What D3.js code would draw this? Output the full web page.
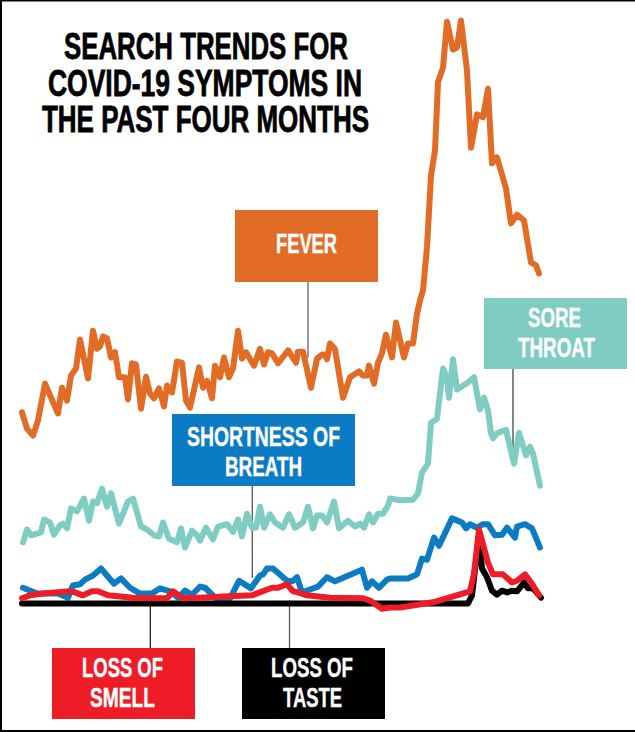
<!DOCTYPE html>
<html>
<head>
<meta charset="utf-8">
<script src="https://cdnjs.cloudflare.com/ajax/libs/d3/7.8.5/d3.min.js"></script>
<style>
  html, body { margin: 0; padding: 0; background: #fff; }
  text { font-family: "Liberation Sans Narrow", "Liberation Sans", sans-serif; font-weight: 700; }
</style>
</head>
<body>
<div id="chart"></div>
<script>
const titleLines = ["SEARCH TRENDS FOR", "COVID-19 SYMPTOMS IN", "THE PAST FOUR MONTHS"];

// days since the start of the window, search interest 0-100
const feverDays = [0,1.25,2.75,4,5.75,9,10,11.25,12.25,13.5,14.5,16.5,17.75,18.75,19.5,20.25,21.25,22.25,23.25,24.25,25.75,26.5,27.5,28.5,29.75,31,32,33,34.25,35.5,36.25,37.5,38.75,40,41,42,44.25,45.25,46.25,47.5,48.25,49.5,50.5,51.75,52.75,54,55,56,58,59.5,60.5,61.5,62.5,64,66.5,68.5,69,70.25,72.25,73.75,75,75.75,76.25,77,78.25,80.25,82,84.25,85.25,86.25,86.75,88,89,90,91,92.5,93.5,95.5,96.5,97.75,98.75,99.5,100.25,101.25,102.25,103.25,104,105.25,106.25,107.75,108.75,109.75,111.25,112.25,113.75,115.25,116.5,117.5,118.75,121,122.25,123.75,125.5,127.25,128.5,129.25];
const feverValues = [32.8,30,28.8,31.4,37.7,32.6,37,34.8,39.1,40.3,45.3,38.6,46.8,43.7,44.1,45.8,45.5,42.2,43.1,38.8,38.8,35,41.2,41,33.4,38.9,36,35.2,36.9,33.8,37.4,36.2,41.5,41.3,34.8,33.6,40.5,37,38.2,35.2,40.8,38.8,42.2,38.8,40.3,46.8,42,43.1,40.8,43.7,41,43.1,42.9,41.2,43.4,41.3,43.2,43.2,37,42,42.7,42.7,41.9,44.6,43.6,35.3,38.8,39.8,39.1,39.1,40.8,37.7,41.3,42.9,46.1,42.2,48.2,42.2,44.6,44.6,49.7,52,53.7,61.1,73.4,77.7,89.4,91.9,99.8,95,95.4,100,91.4,78.2,83.9,83.4,88.3,75.5,76.5,71.2,65.2,66.7,65.7,58.5,58,56.6];

const throatDays = [0.25,1.25,2.25,4.75,5.5,7,8,9.5,10.25,11.25,12.25,13.75,15.5,16.75,17.75,18.75,20,21.25,22.25,24.25,26.5,27.75,29.75,31.25,33,34.25,35.25,36.75,38.75,39.75,40.75,42.5,43.75,44.5,46,47.75,49,51.25,52.75,54,55,56.25,57.5,58.5,59.5,60.5,62,63.25,65.25,66.75,68.25,70.25,71.5,72.75,73.75,75,76.25,78,79.25,81.5,83.25,84.5,85.5,86.75,87.75,89,90.25,91.5,92,94.5,97.75,99,100,101.5,102.25,103.75,105.25,106.25,106.75,107.75,108.75,111.5,113,114.5,115.5,116.5,117.25,117.75,118.75,121,123,124.25,126,127,127.75,129.5];
const throatValues = [10.5,12.7,11.7,12.2,14.4,13.9,11.8,13.4,13.7,12.9,16.3,15.8,18,14.2,17.5,17.2,19.7,16.6,18.9,13.7,17.5,18,13.2,12.7,11.7,11.5,13.9,11.1,10.5,12.9,9.6,12.5,11.7,10.8,13,11,13.2,13.6,12.3,14.4,11.5,15.4,13,13,16.6,13,15.3,13.9,13,15.3,13,13.9,16.6,12.9,15.1,15.1,13.9,17.5,12.9,14.2,13.2,13.7,13,15.3,13.9,15.4,15.4,16.8,18,17.7,17.8,18.9,22.5,24,31,31.7,40.3,38.8,35.3,41.9,36.7,37.9,38.8,33.3,35.3,33.1,29.2,28.3,29.2,29.8,24,29.3,25.4,26.9,25.7,20.2];

const breathDays = [0.25,3.75,9,11.5,12.75,14.5,15.75,17.75,19.75,23,24.75,27,29.5,32.5,34.5,37,39,40.75,42.5,44.5,45.75,48.75,52,54.25,57.25,59.5,60.25,61.25,62.75,66.25,67.5,68.75,70,72,74,76.25,78.25,85,86.25,87.5,89.25,91.25,92,94.5,96.5,98.75,100,101.25,103,104.25,107.5,110,111,112,113.75,115.25,116.5,118.25,120,121.25,123.25,123.75,125.75,127.5,129.5];
const breathValues = [2.7,1.7,1.7,1,3.1,3.3,4.1,4.8,6,3.4,4.3,2.7,1.7,1.7,2.6,2.1,1,2.2,1.5,2.9,2.7,0.7,0.9,3.9,2.6,4.8,5,6,6,3.9,3.8,4.5,1.9,2.4,2.9,4.5,3.8,5.8,2.7,3.8,2.7,4.1,4.3,4.3,4.3,5,7.7,7.5,11.3,9.9,14.6,13.9,12.9,13.6,13,13.6,13.6,11.7,11.8,13,11.3,13.2,13.6,12.9,9.6];

const tasteDays = [0,111.5,112.5,114.25,115,116.25,117.5,118.75,120,121.25,122.5,123.75,125.5,126.5,127.75,129.75];
const tasteValues = [0,0,1.4,11.7,6,4.5,2.2,1.5,2.2,1.9,2.2,2.1,3.6,2.6,2.6,1];

const smellDays = [0,2,5.25,12,13.25,15.25,17.5,19,21.5,27.75,33.75,36.25,37.75,40.25,42,44.5,50.25,57.5,62.5,64,66.25,67.75,69,71.25,77,85.25,87,90,92,94.5,102.75,112,113,114.25,116.5,117.75,120.25,122.5,123.75,125.75,127.5,129.25];
const smellValues = [0.9,1.4,1.7,2.1,1.9,1.4,2.1,2.1,1.4,1,0.9,0.9,2.1,0.9,1,1,1.2,1.4,2.7,2.7,3.3,2.1,1.9,1.4,1,0.9,0.5,-0.9,-0.7,-0.7,0.2,2.1,5.1,12.7,7,5,5,3.6,3.9,5,3.4,1.4];

const width = 635;
const height = 732;

const orange = '#e26b25';
const teal = '#7fccc3';
const blue = '#0b7bc4';
const red = '#ee1c27';
const black = '#000000';

const x = d3.scaleLinear().domain([0, 130]).range([22, 542]);
const y = d3.scaleLinear().domain([0, 100]).range([603.5, 20.5]);

const svg = d3
    .select('#chart')
    .append('svg')
    .attr('width', width)
    .attr('height', height)
    .style('display', 'block');

svg.append('rect').attr('width', width).attr('height', height).attr('fill', '#fff');

// scan has a thin frame on the left, top and bottom only
svg.append('rect').attr('width', 2).attr('height', height).attr('fill', black);
svg.append('rect').attr('width', width).attr('height', 1.5).attr('fill', black);
svg.append('rect').attr('y', height - 2).attr('width', width).attr('height', 2).attr('fill', black);

const line = d3.line()
    .x(d => x(d[0]))
    .y(d => y(d[1]));

const series = [
    { days: feverDays, values: feverValues, color: orange },
    { days: throatDays, values: throatValues, color: teal },
    { days: breathDays, values: breathValues, color: blue },
    { days: tasteDays, values: tasteValues, color: black },
    { days: smellDays, values: smellValues, color: red }
];

// leader lines go under the curves
const leaders = [
    { x: 308, y1: 282, y2: 358, color: '#808080', w: 1.6 },
    { x: 513, y1: 369, y2: 450, color: '#444444', w: 1.3 },
    { x: 252.3, y1: 486, y2: 578, color: '#555555', w: 1.3 },
    { x: 150.3, y1: 597, y2: 648, color: '#111111', w: 1.2 },
    { x: 289.5, y1: 600, y2: 648, color: '#555555', w: 1.3 }
];

svg.selectAll('.leader')
    .data(leaders)
    .join('line')
    .attr('class', 'leader')
    .attr('x1', d => d.x)
    .attr('x2', d => d.x)
    .attr('y1', d => d.y1)
    .attr('y2', d => d.y2)
    .attr('stroke', d => d.color)
    .attr('stroke-width', d => d.w);

svg.selectAll('.series')
    .data(series)
    .join('path')
    .attr('class', 'series')
    .attr('fill', 'none')
    .attr('stroke', d => d.color)
    .attr('stroke-width', 6)
    .attr('stroke-linecap', 'round')
    .attr('stroke-linejoin', 'round')
    .attr('d', d => line(d.days.map((day, i) => [day, d.values[i]])));

// left, right, baseline of each line of text
const labels = [
    { box: [235, 210, 143, 72], fill: orange, lines: [{ t: 'FEVER', x0: 276, x1: 337, y: 253 }] },
    { box: [484, 298, 143, 71], fill: teal, lines: [{ t: 'SORE', x0: 528, x1: 581, y: 327 }, { t: 'THROAT', x0: 518, x1: 595, y: 357 }] },
    { box: [172, 414, 183, 72], fill: blue, lines: [{ t: 'SHORTNESS OF', x0: 187, x1: 340, y: 446 }, { t: 'BREATH', x0: 225, x1: 302, y: 476 }] },
    { box: [52, 648, 143, 71], fill: red, lines: [{ t: 'LOSS OF', x0: 82, x1: 163, y: 677 }, { t: 'SMELL', x0: 90, x1: 155, y: 707 }] },
    { box: [242, 648, 143, 71], fill: black, lines: [{ t: 'LOSS OF', x0: 271, x1: 353, y: 677 }, { t: 'TASTE', x0: 283, x1: 342, y: 707 }] }
];

svg.selectAll('.label-box')
    .data(labels)
    .join('rect')
    .attr('class', 'label-box')
    .attr('x', d => d.box[0])
    .attr('y', d => d.box[1])
    .attr('width', d => d.box[2])
    .attr('height', d => d.box[3])
    .attr('fill', d => d.fill);

// one text element per label, one tspan per line
svg.selectAll('.label-text')
    .data(labels)
    .join('text')
    .attr('class', 'label-text')
    .attr('font-size', 27)
    .attr('fill', '#fff')
    .attr('stroke', '#fff')
    .attr('stroke-width', 0.4)
    .selectAll('tspan')
    .data(d => d.lines)
    .join('tspan')
    .attr('x', d => d.x0)
    .attr('y', d => d.y)
    .attr('textLength', d => d.x1 - d.x0)
    .attr('lengthAdjust', 'spacingAndGlyphs')
    .text(d => d.t);

const titlePos = [[64, 348, 59], [48, 362, 96], [42, 369, 132]];

svg.append('text')
    .attr('class', 'title')
    .attr('font-size', 37)
    .attr('fill', black)
    .attr('stroke', black)
    .attr('stroke-width', 0.8)
    .selectAll('tspan')
    .data(titleLines)
    .join('tspan')
    .attr('x', (d, i) => titlePos[i][0])
    .attr('y', (d, i) => titlePos[i][2])
    .attr('textLength', (d, i) => titlePos[i][1] - titlePos[i][0])
    .attr('lengthAdjust', 'spacingAndGlyphs')
    .text(d => d);
</script>
</body>
</html>
